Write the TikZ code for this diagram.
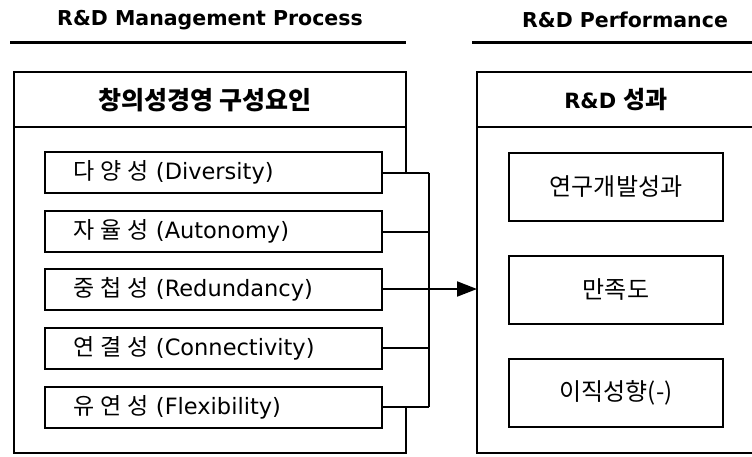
\documentclass[tikz,border=0pt]{standalone}
\usepackage{fontspec}
\setmainfont{DejaVu Sans}
\newfontfamily\kr{Noto Sans CJK KR}
\usetikzlibrary{arrows.meta}
\newcommand\ks{\hspace{6pt}}
\newcommand\krit{\kr\fontsize{23}{26}\selectfont}
\tikzset{
  itembox/.style={draw, line width=2pt, minimum height=41pt, text width=281pt,
    inner xsep=28pt, inner ysep=0pt, align=left, font=\fontsize{22.5}{26}\selectfont},
  outbox/.style={draw, line width=2pt, minimum width=214pt, minimum height=68pt,
    inner sep=0pt, font=\kr\fontsize{24}{26}\selectfont},
  frame/.style={line width=1.8pt},
  rule/.style={line width=3pt},
  headtext/.style={font=\bfseries\fontsize{20.5}{23}\selectfont, inner sep=0pt},
  titletext/.style={font=\bfseries\fontsize{21}{24}\selectfont, inner sep=0pt},
  link/.style={line width=2pt},
}
\begin{document}
\begin{tikzpicture}[x=1pt, y=-1pt]
\useasboundingbox (0,0) rectangle (752,456);

% headers
\node[headtext] (h1) at (210,20) {R\&D Management Process};
\node[headtext] (h2) at (625,20) {R\&D Performance};
\coordinate (u1a) at (10,42);  \coordinate (u1b) at (406,42);
\coordinate (u2a) at (472,42); \coordinate (u2b) at (752,42);
\draw[rule] (u1a) -- (u1b);
\draw[rule] (u2a) -- (u2b);

% left container
\draw[frame] (406,172.5) -- (406,72) -- (14,72) -- (14,453) -- (406,453) -- (406,407);
\draw[frame] (14,127) -- (406,127);
\node[titletext] (t1) at (205,100) {\kr\fontsize{25}{28}\selectfont 창의성경영 구성요인};

% right container
\draw[frame] (752,72) -- (477,72) -- (477,453) -- (752,453);
\draw[frame] (477,127) -- (752,127);
\node[titletext] (t2) at (616,100) {R\&D {\kr\fontsize{24}{26}\selectfont 성과}};

% left items
\node[itembox] (d1) at (213.5,172.5) {{\krit 다\ks 양\ks 성} (Diversity)};
\node[itembox] (d2) at (213.5,231.5) {{\krit 자\ks 율\ks 성} (Autonomy)};
\node[itembox] (d3) at (213.5,289)   {{\krit 중\ks 첩\ks 성} (Redundancy)};
\node[itembox] (d4) at (213.5,348)   {{\krit 연\ks 결\ks 성} (Connectivity)};
\node[itembox] (d5) at (213.5,407)   {{\krit 유\ks 연\ks 성} (Flexibility)};

% right items
\node[outbox] (p1) at (616,187)   {연구개발성과};
\node[outbox] (p2) at (616,289.5) {만족도};
\node[outbox] (p3) at (616,392.5) {이직성향(-)};

% bus and connectors
\coordinate (bt) at (429,172.5);
\coordinate (bb) at (429,407);
\coordinate (rin) at (477,289);
\draw[link] (bt) -- (bb);
\foreach \n in {d1,d2,d4,d5}{
  \draw[link] (\n.east) -- (\n.east -| bt);
}
\draw[link, -{Triangle[length=20pt, width=15pt]}] (d3.east) -- (rin);
\end{tikzpicture}
\end{document}
